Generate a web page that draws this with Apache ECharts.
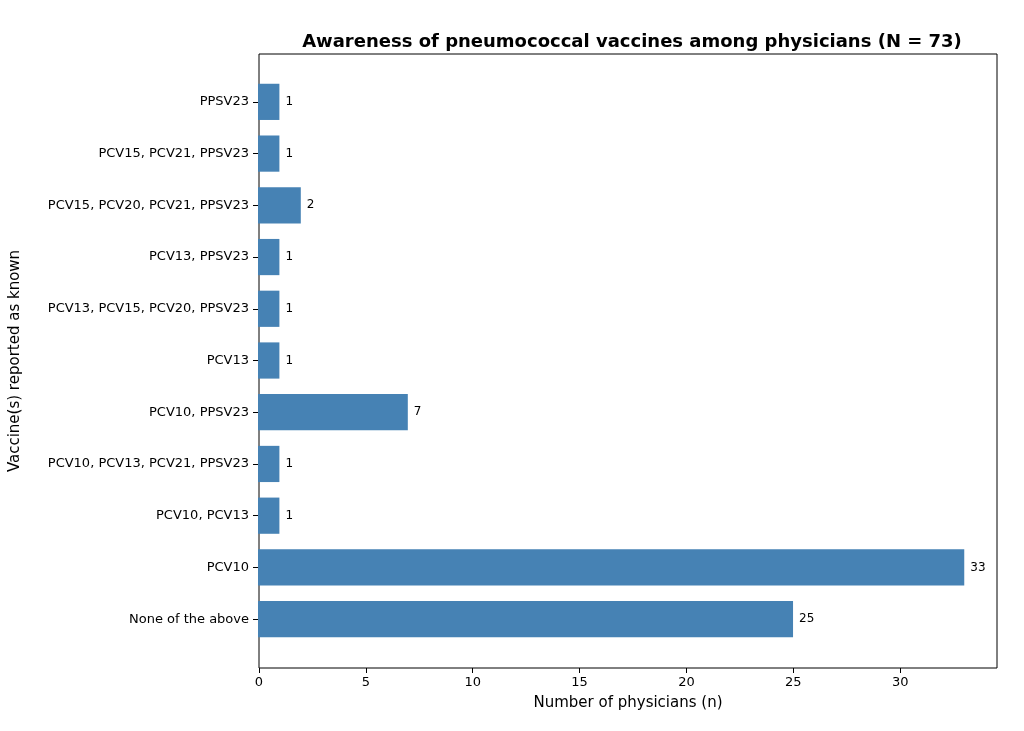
<!DOCTYPE html>
<html><head><meta charset="utf-8">
<script src="https://cdn.jsdelivr.net/npm/echarts@6/dist/echarts.min.js"></script>
<style>html,body{margin:0;padding:0;background:#fff}#c{width:1024px;height:731px}</style>
</head><body><div id="c"></div>
<script>
var categories=['None of the above','PCV10','PCV10, PCV13','PCV10, PCV13, PCV21, PPSV23','PCV10, PPSV23','PCV13','PCV13, PCV15, PCV20, PPSV23','PCV13, PPSV23','PCV15, PCV20, PCV21, PPSV23','PCV15, PCV21, PPSV23','PPSV23'];
var counts=[25,33,1,1,7,1,1,1,2,1,1];
var xTicks=[0,5,10,15,20,25,30];
var font='DejaVu Sans';
var chart=echarts.init(document.getElementById('c'));
chart.setOption({
  animation:false,
  textStyle:{fontFamily:font},
  title:{text:'Awareness of pneumococcal vaccines among physicians (N = 73)',left:627,top:28,textAlign:'center',
    textStyle:{fontFamily:font,fontSize:18,fontWeight:'bold',color:'#000'}},
  grid:[
    {left:258,right:27,top:76,bottom:86},
    {left:258,right:27,top:54,bottom:63,show:true,borderColor:'#000',borderWidth:1,backgroundColor:'transparent'}
  ],
  xAxis:[
    {gridIndex:0,type:'value',min:0,max:34.53,show:false},
    {gridIndex:1,type:'value',min:0,max:34.53,interval:5,
      name:'Number of physicians (n)',nameLocation:'middle',nameGap:28,
      nameTextStyle:{fontSize:15,color:'#000'},
      axisLine:{show:false},axisTick:{show:true,length:5,lineStyle:{color:'#000'}},
      axisLabel:{color:'#000',fontSize:13,showMaxLabel:false,
        formatter:function(v){return xTicks.indexOf(v)>=0?String(v):'';}},
      splitLine:{show:false}}
  ],
  yAxis:[
    {gridIndex:0,type:'category',data:categories,
      axisLine:{show:false},axisTick:{show:true,alignWithLabel:true,length:5,lineStyle:{color:'#000'}},
      axisLabel:{color:'#000',fontSize:13,margin:9}},
    {gridIndex:1,type:'value',min:0,max:1,
      name:'Vaccine(s) reported as known',nameLocation:'middle',nameGap:236,
      nameTextStyle:{fontSize:15,color:'#000'},
      axisLine:{show:false},axisTick:{show:false},axisLabel:{show:false},splitLine:{show:false}}
  ],
  series:[{
    type:'bar',xAxisIndex:0,yAxisIndex:0,data:counts,barCategoryGap:'30%',
    itemStyle:{color:'#4682b4'},
    label:{show:true,position:'right',distance:6,color:'#000',fontSize:12}
  }]
});
</script></body></html>
